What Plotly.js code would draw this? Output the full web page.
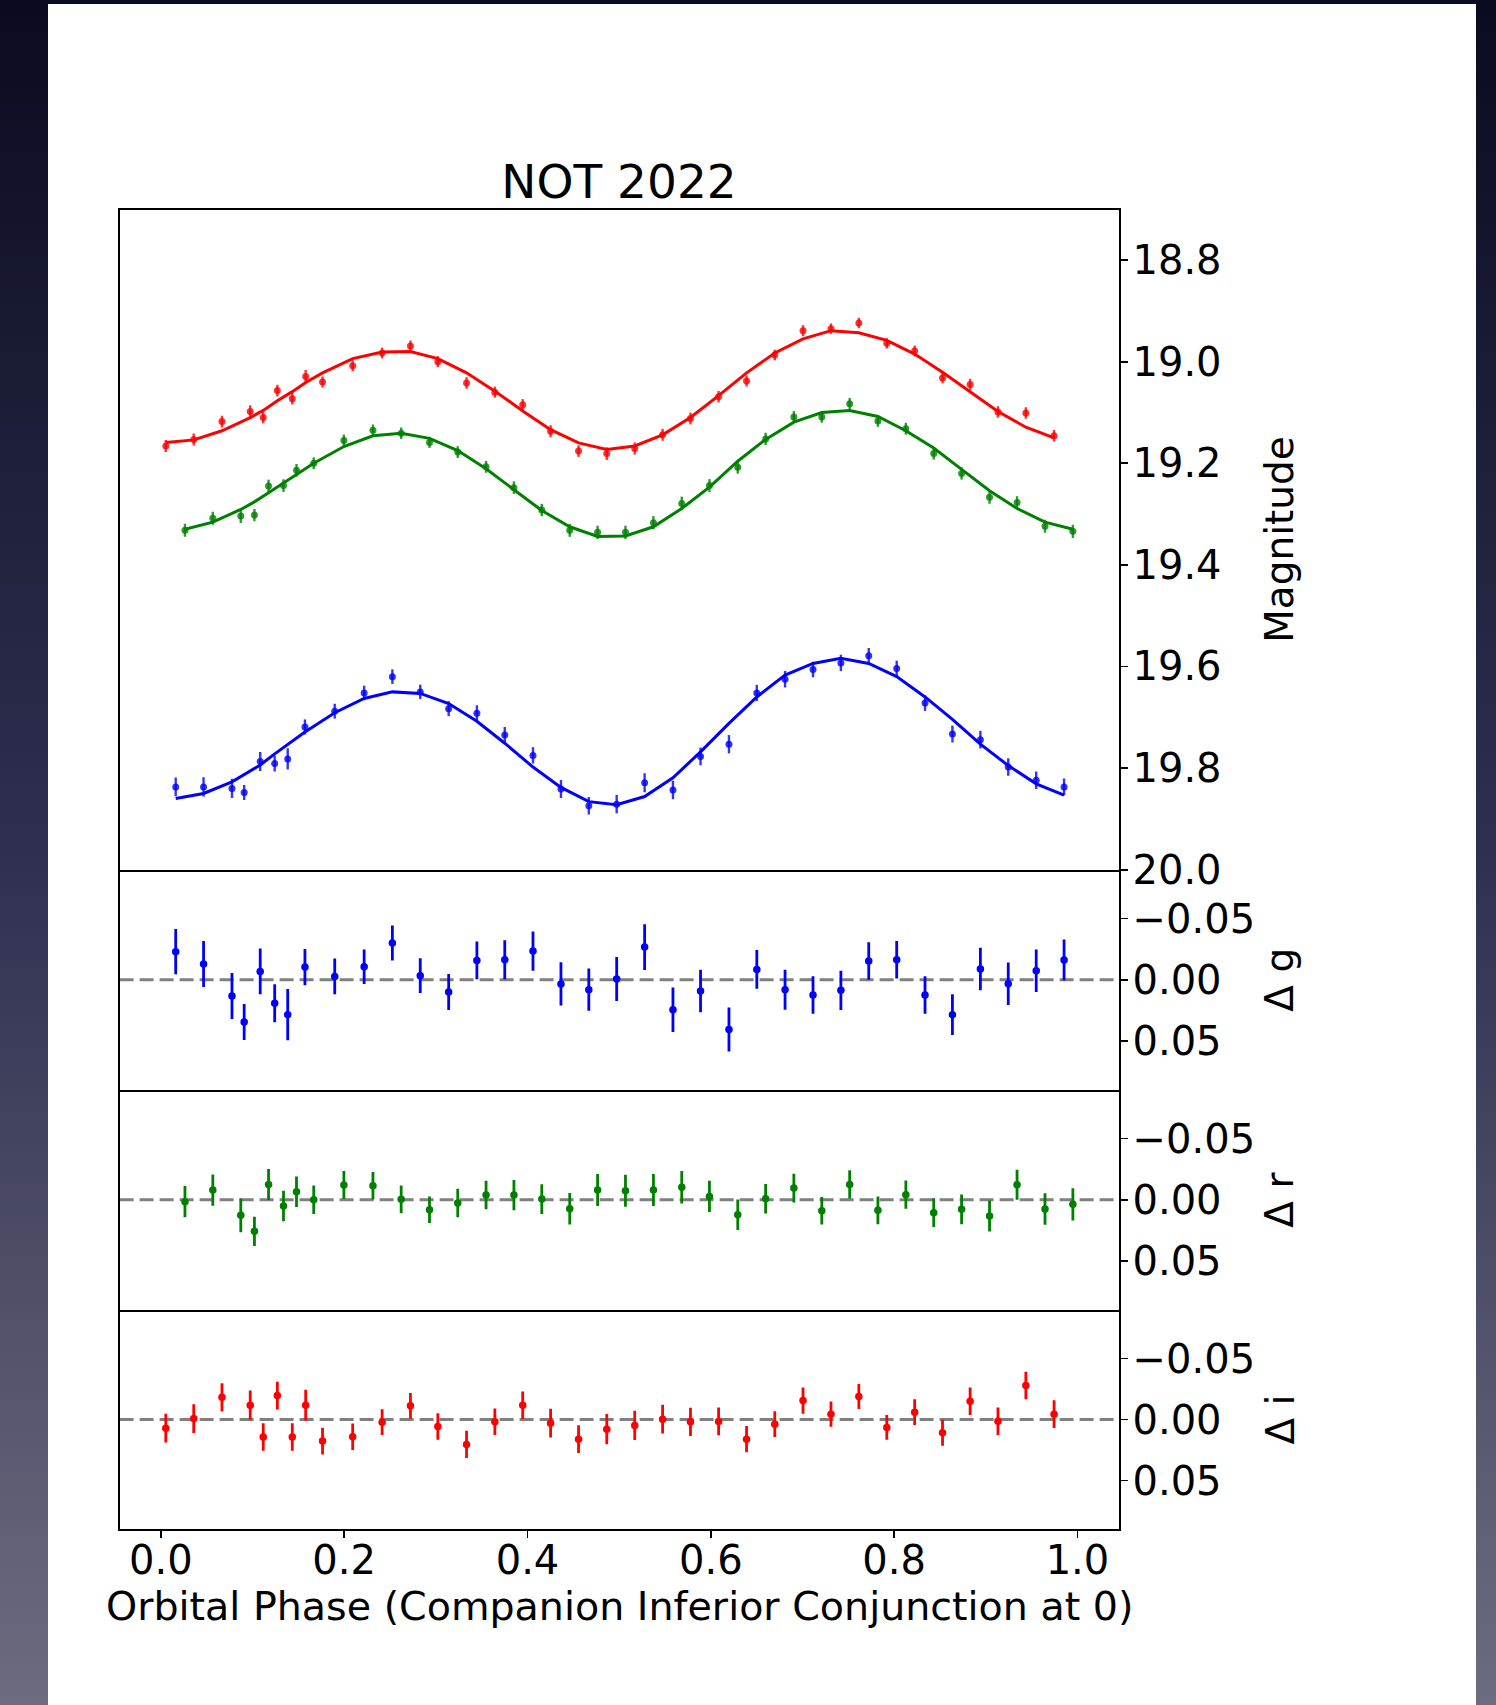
<!DOCTYPE html>
<html>
<head>
<meta charset="utf-8">
<script src="https://cdn.plot.ly/plotly-3.0.1.min.js"></script>
<style>
  html, body { margin: 0; padding: 0; width: 1496px; height: 1705px; overflow: hidden;
    background: linear-gradient(180deg, #0a0b20 0%, #2f3050 50%, #6c6c80 100%); }
  #sheet { position: absolute; left: 48px; top: 4px; width: 1428px; height: 1701px; background: #ffffff; }
  #chart { position: absolute; left: 0; top: 0; width: 1496px; height: 1705px; }
</style>
</head>
<body>
<div id="sheet"></div>
<div id="chart"></div>
<script>
// g band (blue)
const phaseG = [0.0162, 0.0466, 0.0776, 0.0909, 0.1084, 0.1242, 0.1384, 0.1572, 0.1897, 0.2218, 0.2526, 0.283, 0.314, 0.3448, 0.3752, 0.406, 0.4365, 0.4669, 0.4973, 0.5278, 0.5587, 0.5888, 0.6198, 0.6502, 0.681, 0.7115, 0.7419, 0.7723, 0.8028, 0.8337, 0.8636, 0.8941, 0.9245, 0.955, 0.9854];
const magG = [19.837, 19.837, 19.840, 19.848, 19.787, 19.791, 19.782, 19.719, 19.688, 19.652, 19.620, 19.650, 19.683, 19.692, 19.735, 19.775, 19.841, 19.874, 19.871, 19.829, 19.843, 19.777, 19.753, 19.652, 19.625, 19.606, 19.593, 19.579, 19.604, 19.672, 19.733, 19.744, 19.798, 19.824, 19.837];
const errG = [0.0185, 0.0188, 0.0188, 0.0148, 0.0187, 0.0155, 0.0210, 0.0148, 0.0146, 0.0142, 0.0143, 0.0142, 0.0147, 0.0155, 0.0159, 0.0161, 0.0177, 0.0173, 0.0180, 0.0187, 0.0182, 0.0174, 0.0180, 0.0159, 0.0163, 0.0153, 0.0161, 0.0153, 0.0154, 0.0154, 0.0166, 0.0174, 0.0173, 0.0174, 0.0167];
const modelG = [19.860, 19.850, 19.827, 19.813, 19.794, 19.772, 19.753, 19.729, 19.691, 19.663, 19.650, 19.653, 19.673, 19.708, 19.751, 19.798, 19.838, 19.866, 19.872, 19.856, 19.819, 19.768, 19.712, 19.660, 19.617, 19.594, 19.584, 19.594, 19.620, 19.660, 19.704, 19.753, 19.795, 19.831, 19.853];
const residG = [-0.0229, -0.0128, 0.0133, 0.0346, -0.0068, 0.0193, 0.0286, -0.0103, -0.0027, -0.0106, -0.0300, -0.0033, 0.0101, -0.0158, -0.0163, -0.0234, 0.0035, 0.0082, -0.0005, -0.0267, 0.0245, 0.0093, 0.0408, -0.0084, 0.0082, 0.0125, 0.0087, -0.0153, -0.0163, 0.0125, 0.0286, -0.0087, 0.0033, -0.0074, -0.0161];

// r band (green)
const phaseR = [0.0263, 0.0567, 0.0872, 0.1021, 0.1175, 0.1338, 0.148, 0.1668, 0.1997, 0.2314, 0.2622, 0.2931, 0.3239, 0.3548, 0.3852, 0.4156, 0.4461, 0.4765, 0.5069, 0.5374, 0.5683, 0.5985, 0.6294, 0.6598, 0.6906, 0.7211, 0.7515, 0.7823, 0.8128, 0.8432, 0.8736, 0.9041, 0.9341, 0.9646, 0.995];
const magR = [19.332, 19.308, 19.304, 19.302, 19.245, 19.244, 19.214, 19.200, 19.155, 19.135, 19.141, 19.159, 19.178, 19.207, 19.248, 19.292, 19.332, 19.336, 19.336, 19.317, 19.279, 19.244, 19.208, 19.152, 19.109, 19.109, 19.083, 19.117, 19.132, 19.181, 19.220, 19.267, 19.277, 19.324, 19.334];
const errR = [0.0128, 0.0128, 0.0138, 0.0120, 0.0127, 0.0125, 0.0125, 0.0116, 0.0114, 0.0113, 0.0113, 0.0109, 0.0116, 0.0117, 0.0124, 0.0121, 0.0128, 0.0131, 0.0131, 0.0131, 0.0133, 0.0128, 0.0125, 0.0121, 0.0117, 0.0112, 0.0116, 0.0113, 0.0116, 0.0118, 0.0121, 0.0127, 0.0123, 0.0128, 0.0132];
const modelR = [19.330, 19.316, 19.291, 19.276, 19.258, 19.239, 19.221, 19.200, 19.167, 19.146, 19.141, 19.151, 19.175, 19.211, 19.252, 19.293, 19.325, 19.344, 19.343, 19.325, 19.289, 19.247, 19.196, 19.153, 19.119, 19.100, 19.096, 19.108, 19.136, 19.170, 19.212, 19.254, 19.289, 19.316, 19.330];
const residR = [0.0016, -0.0079, 0.0128, 0.0259, -0.0125, 0.0052, -0.0065, 0.0000, -0.0120, -0.0114, -0.0003, 0.0082, 0.0027, -0.0038, -0.0038, -0.0005, 0.0074, -0.0079, -0.0074, -0.0079, -0.0101, -0.0027, 0.0123, -0.0008, -0.0095, 0.0090, -0.0125, 0.0087, -0.0041, 0.0106, 0.0079, 0.0133, -0.0123, 0.0076, 0.0038];

// i band (red)
const phaseI = [0.0054, 0.0359, 0.0667, 0.0975, 0.1117, 0.1271, 0.1434, 0.158, 0.1764, 0.2093, 0.2414, 0.2723, 0.3022, 0.3335, 0.3644, 0.3948, 0.4252, 0.4557, 0.4865, 0.517, 0.5474, 0.5778, 0.6085, 0.639, 0.6698, 0.7006, 0.7311, 0.7615, 0.792, 0.8224, 0.8528, 0.8829, 0.9133, 0.9437, 0.9745];
const magI = [19.166, 19.153, 19.118, 19.098, 19.110, 19.057, 19.073, 19.029, 19.040, 19.008, 18.983, 18.969, 19.000, 19.042, 19.060, 19.085, 19.137, 19.176, 19.181, 19.171, 19.144, 19.112, 19.069, 19.038, 18.987, 18.939, 18.935, 18.924, 18.964, 18.979, 19.032, 19.045, 19.099, 19.101, 19.146];
const errI = [0.0118, 0.0118, 0.0116, 0.0120, 0.0113, 0.0114, 0.0113, 0.0127, 0.0110, 0.0109, 0.0106, 0.0105, 0.0108, 0.0112, 0.0109, 0.0112, 0.0118, 0.0114, 0.0124, 0.0120, 0.0118, 0.0116, 0.0114, 0.0108, 0.0105, 0.0108, 0.0103, 0.0102, 0.0102, 0.0105, 0.0106, 0.0113, 0.0113, 0.0113, 0.0114];
const modelI = [19.159, 19.154, 19.136, 19.110, 19.096, 19.077, 19.059, 19.041, 19.022, 18.994, 18.981, 18.980, 18.994, 19.022, 19.058, 19.097, 19.134, 19.160, 19.173, 19.166, 19.144, 19.110, 19.067, 19.022, 18.983, 18.955, 18.939, 18.943, 18.958, 18.985, 19.021, 19.060, 19.098, 19.129, 19.150];
const residI = [0.0071, -0.0008, -0.0182, -0.0117, 0.0144, -0.0196, 0.0144, -0.0117, 0.0177, 0.0142, 0.0022, -0.0112, 0.0057, 0.0204, 0.0019, -0.0117, 0.0030, 0.0161, 0.0079, 0.0049, -0.0003, 0.0019, 0.0016, 0.0161, 0.0038, -0.0155, -0.0044, -0.0188, 0.0065, -0.0060, 0.0109, -0.0150, 0.0014, -0.0278, -0.0044];

const magTicks = [18.8, 19.0, 19.2, 19.4, 19.6, 19.8, 20.0];
const residTicks = [-0.05, 0.00, 0.05];
const residTickText = ['\u22120.05', '0.00', '0.05'];
const phaseTicks = [0.0, 0.2, 0.4, 0.6, 0.8, 1.0];

const W = 1496, H = 1705;
const FONT = 'DejaVu Sans';
const px = v => v / W;
const py = v => 1 - v / H;

const X_DOM = [px(119.6), px(1118.7)];
const DOM_MAIN = [py(869.7), py(210)];
const DOM_G = [py(1089.7), py(869.7)];
const DOM_R = [py(1309.7), py(1089.7)];
const DOM_I = [py(1529.3), py(1309.7)];

const bands = [
  { phase: phaseG, mag: magG, err: errG, model: modelG, resid: residG, color: '#0000ff', fade: 'rgba(0,0,255,0.8)', ax: '2' },
  { phase: phaseR, mag: magR, err: errR, model: modelR, resid: residR, color: '#008000', fade: 'rgba(0,128,0,0.8)', ax: '3' },
  { phase: phaseI, mag: magI, err: errI, model: modelI, resid: residI, color: '#ff0000', fade: 'rgba(255,0,0,0.8)', ax: '4' }
];

const traces = [];
bands.forEach(b => {
  // light curve points with errors
  traces.push({
    x: b.phase, y: b.mag, xaxis: 'x', yaxis: 'y', type: 'scatter', mode: 'markers',
    marker: { color: b.fade, size: 7 },
    error_y: { type: 'data', array: b.err, visible: true, color: b.fade, thickness: 2.4, width: 0 },
    showlegend: false, hoverinfo: 'skip'
  });
  // model curve
  traces.push({
    x: b.phase, y: b.model, xaxis: 'x', yaxis: 'y', type: 'scatter', mode: 'lines',
    line: { color: b.color, width: 3 }, showlegend: false, hoverinfo: 'skip'
  });
  // residuals
  traces.push({
    x: b.phase, y: b.resid, xaxis: 'x' + b.ax, yaxis: 'y' + b.ax, type: 'scatter', mode: 'markers',
    marker: { color: b.color, size: 7.5 },
    error_y: { type: 'data', array: b.err, visible: true, color: b.color, thickness: 2.8, width: 0 },
    showlegend: false, hoverinfo: 'skip'
  });
});

const LW = 1.8;
const tickFont = { family: FONT, size: 40, color: '#000000' };

// top panel carries the full frame; lower panels draw only their bottom edge
// so the shared borders stay a single line
function xAxis(anchor, isMain, withTicks) {
  return {
    domain: X_DOM, anchor: anchor, range: [-0.045, 1.045], autorange: false,
    showline: true, linecolor: '#000000', linewidth: LW, mirror: isMain,
    showgrid: false, zeroline: false,
    ticks: withTicks ? 'outside' : '', ticklen: 7, tickwidth: LW, tickcolor: '#000000',
    showticklabels: withTicks, tickvals: phaseTicks, ticktext: phaseTicks.map(v => v.toFixed(1)),
    tickfont: tickFont, ticklabelstandoff: withTicks ? -12 : 0
  };
}
function yAxis(anchor, domain, range, vals, text) {
  return {
    domain: domain, anchor: anchor, side: 'right', range: range, autorange: false,
    showline: true, linecolor: '#000000', linewidth: LW, mirror: true,
    showgrid: false, zeroline: false,
    ticks: 'outside', ticklen: 7, tickwidth: LW, tickcolor: '#000000',
    tickvals: vals, ticktext: text, tickfont: tickFont, ticklabelstandoff: -3
  };
}

const zeroLine = ax => ({
  type: 'line', xref: 'paper', yref: 'y' + ax, x0: X_DOM[0], x1: X_DOM[1], y0: 0, y1: 0,
  line: { color: '#808080', width: 3, dash: '14px,6px' }, layer: 'below'
});

const yLabel = (text, yc) => ({
  text: text, xref: 'paper', yref: 'paper', x: px(1280), y: yc, xanchor: 'center', yanchor: 'middle',
  textangle: -90, showarrow: false, font: { family: FONT, size: 39, color: '#000000' }
});

const layout = {
  width: W, height: H,
  margin: { l: 0, r: 0, t: 0, b: 0 },
  paper_bgcolor: 'rgba(0,0,0,0)', plot_bgcolor: '#ffffff',
  font: { family: FONT, color: '#000000' },
  title: { text: 'NOT 2022', font: { family: FONT, size: 47, color: '#000000' },
           x: px(619), xref: 'paper', xanchor: 'center', y: py(182), yref: 'container', yanchor: 'middle' },
  xaxis: xAxis('y', true, false),
  xaxis2: xAxis('y2', false, false),
  xaxis3: xAxis('y3', false, false),
  xaxis4: xAxis('y4', false, true),
  yaxis: yAxis('x', DOM_MAIN, [20.0, 18.7015], magTicks, magTicks.map(v => v.toFixed(1))),
  yaxis2: yAxis('x2', DOM_G, [0.09, -0.09], residTicks, residTickText),
  yaxis3: yAxis('x3', DOM_R, [0.09, -0.09], residTicks, residTickText),
  yaxis4: yAxis('x4', DOM_I, [0.09, -0.09], residTicks, residTickText),
  shapes: [zeroLine('2'), zeroLine('3'), zeroLine('4')],
  annotations: [
    yLabel('Magnitude', (DOM_MAIN[0] + DOM_MAIN[1]) / 2),
    yLabel('\u0394 g', (DOM_G[0] + DOM_G[1]) / 2),
    yLabel('\u0394 r', (DOM_R[0] + DOM_R[1]) / 2),
    yLabel('\u0394 i', (DOM_I[0] + DOM_I[1]) / 2),
    { text: 'Orbital Phase (Companion Inferior Conjunction at 0)', xref: 'paper', yref: 'paper',
      x: px(619), y: py(1605.5), xanchor: 'center', yanchor: 'middle', showarrow: false,
      font: { family: FONT, size: 39.6, color: '#000000' } }
  ]
};

Plotly.newPlot('chart', traces, layout, { staticPlot: true, displayModeBar: false });
</script>
</body>
</html>
